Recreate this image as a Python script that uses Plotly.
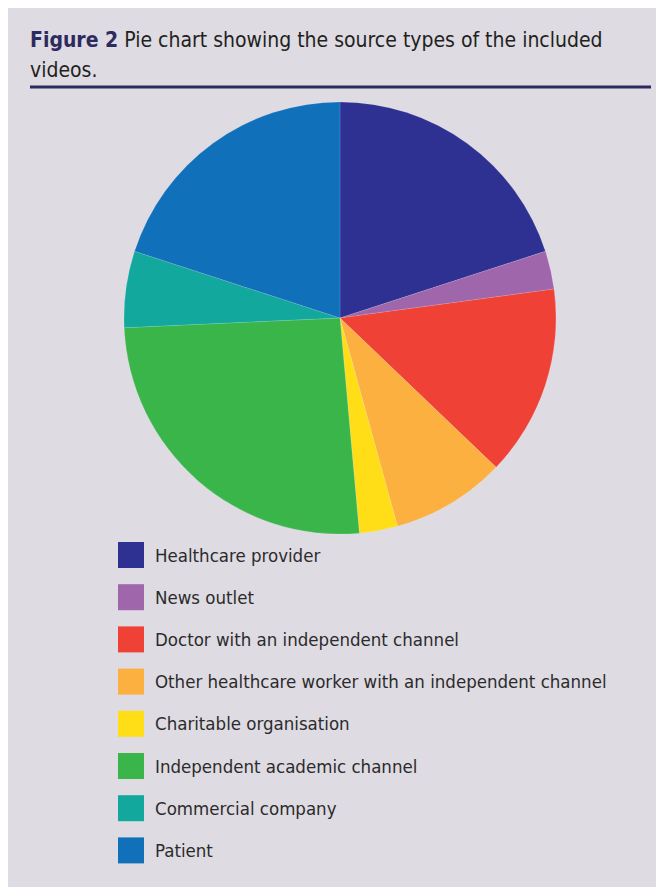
import plotly.graph_objects as go

categories = ["Healthcare provider", "News outlet", "Doctor with an independent channel",
              "Other healthcare worker with an independent channel", "Charitable organisation",
              "Independent academic channel", "Commercial company", "Patient"]
counts = [7, 1, 5, 3, 1, 9, 2, 7]
colors = ["#2e3192", "#a066ab", "#ef4136", "#fbb040", "#ffde17", "#39b54a", "#12a89d", "#1071ba"]

# page has an 8px body margin; figure coordinates = page coordinates - 8
W, H = 656, 879
FONT = "DejaVu Sans Condensed, Liberation Sans Narrow, sans-serif"

fig = go.Figure()
cx, cy, r = 332, 310, 216
fig.add_trace(go.Pie(
    labels=categories, values=counts, sort=False, direction="clockwise", rotation=0,
    marker=dict(colors=colors, line=dict(color="rgba(255,255,255,0.25)", width=0.5)),
    textinfo="none", hoverinfo="label+value+percent", showlegend=False,
    domain=dict(x=[(cx - r) / W, (cx + r) / W], y=[1 - (cy + r) / H, 1 - (cy - r) / H]),
))

shapes = [
    dict(type="line", xref="paper", yref="paper", x0=22 / W, x1=643 / W, y0=1 - 79 / H, y1=1 - 79 / H,
         line=dict(color="#2d2a5e", width=3)),
]
title_lines = ["<b><span style='color:#2d2a5e'>Figure 2</span></b> Pie chart showing the source types of the included",
               "videos."]
annotations = []
for j, t in enumerate(title_lines):
    annotations.append(dict(xref="paper", yref="paper", x=20 / W, y=1 - (32 + 30 * j) / H,
                            xanchor="left", yanchor="middle", align="left", showarrow=False,
                            text=t, font=dict(family=FONT, size=21, color="#231f20")))
for i, (lab, col) in enumerate(zip(categories, colors)):
    yc = 547 + i * 42.2
    shapes.append(dict(type="rect", xref="paper", yref="paper", x0=110 / W, x1=136 / W,
                       y0=1 - (yc + 13) / H, y1=1 - (yc - 13) / H, fillcolor=col, line=dict(width=0)))
    annotations.append(dict(xref="paper", yref="paper", x=145 / W, y=1 - yc / H, xanchor="left",
                            yanchor="middle", showarrow=False, text=lab,
                            font=dict(family=FONT, size=18.5, color="#2b2b2b")))

fig.update_layout(width=W, height=H, margin=dict(l=0, r=0, t=0, b=0),
                  paper_bgcolor="#dedbe3", plot_bgcolor="#dedbe3",
                  shapes=shapes, annotations=annotations)
fig.write_html("out.html")
